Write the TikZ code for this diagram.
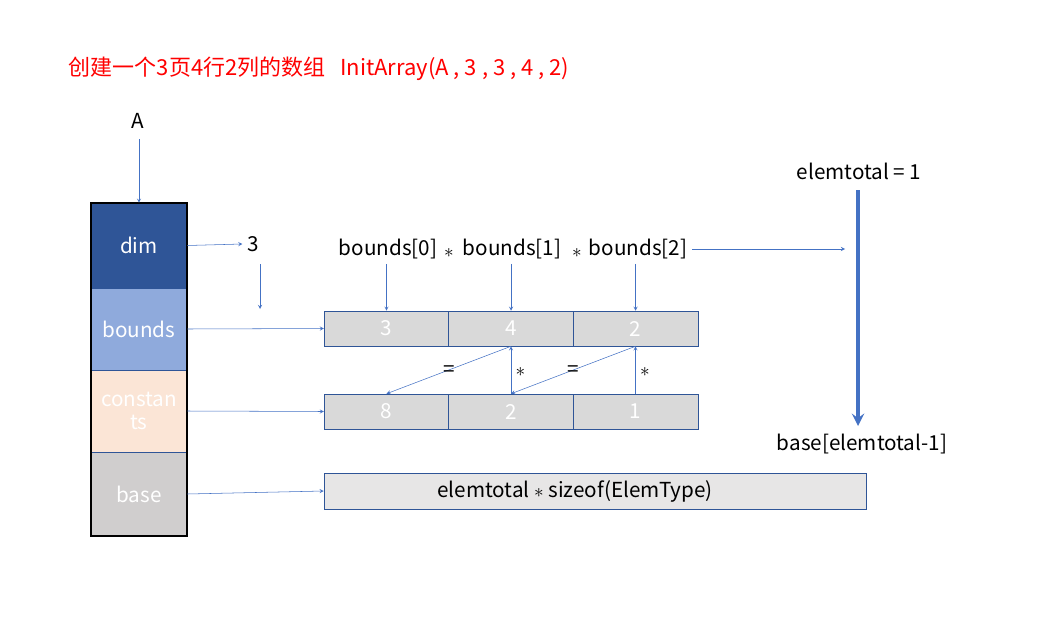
\documentclass[tikz,border=0pt]{standalone}
\usepackage{fontspec}
\setmainfont{Noto Sans CJK SC}
\usetikzlibrary{positioning,fit}
\definecolor{linkblue}{HTML}{4472C4}
\definecolor{edgeblue}{HTML}{2F5597}
\definecolor{dimfill}{HTML}{2F5597}
\definecolor{boundsfill}{HTML}{8FAADC}
\definecolor{consfill}{HTML}{FBE5D6}
\definecolor{basefill}{HTML}{D0CECE}
\definecolor{cellfill}{HTML}{D9D9D9}
\definecolor{totfill}{HTML}{E7E6E6}
\begin{document}
\begin{tikzpicture}[x=0.75pt,y=-0.75pt,>=stealth,semithick,
  font=\fontsize{15.5}{17}\selectfont]
\tikzstyle{field}=[draw=edgeblue,thin,text=white,minimum width=72pt,align=center,inner sep=0pt]
\tikzstyle{cell}=[draw=edgeblue,thin,fill=cellfill,text=white,minimum width=93.4pt,minimum height=26.25pt,inner sep=0pt]
\tikzstyle{link}=[->,linkblue,thin]
\tikzstyle{op}=[text=black]
\useasboundingbox (0,0) rectangle (1056,639);
% title
\node[text=red,anchor=west,font=\fontsize{16.5}{18}\selectfont] (title) at (64,69) {创建一个3页4行2列的数组\ \ \ InitArray(A , 3 , 3 , 4 , 2)};
% array head
\node (A) at (138,121) {A};
\node[field,fill=dimfill,minimum height=63.75pt] (dim) at (139,245.5) {dim};
\node[field,fill=boundsfill,minimum height=61.5pt] (bounds) at (139,329) {bounds};
\node[field,fill=consfill,minimum height=61.5pt] (cons) at (139,411) {constan\\ts};
\node[field,fill=basefill,minimum height=63pt] (base) at (139,494) {base};
\node[fit=(dim)(base),draw=black,line width=1.2pt,inner sep=0pt] (head) {};
\draw[link] (A.south -| dim.north) ++(0,6) -- (dim.north);
% dim
\node (three) at (253,244) {3};
\coordinate (drop) at (260,309);
\draw[link] (dim.east) -- (three.west);
\draw[link] (three.south -| drop) ++(0,8) -- (drop);
% bounds and constants
\node[cell] (b0) at (386.5,328.5) {3};
\node[cell] (b1) at (511,328.5) {4};
\node[cell] (b2) at (635.5,328.5) {2};
\node[cell] (c0) at (386.5,411.5) {8};
\node[cell] (c1) at (511,411.5) {2};
\node[cell] (c2) at (635.5,411.5) {1};
\draw[link] (bounds.east) -- (b0.west);
\draw[link] (cons.east) -- (c0.west);
\node (bd0) at (388,249) {bounds[0]};
\node (m0) at (449,253) {$*$};
\node (bd1) at (512,249) {bounds[1]};
\node (m1) at (577,253) {$*$};
\node (bd2) at (638,249) {bounds[2]};
\draw[link] (bd0.south -| b0) -- (b0.north);
\draw[link] (bd1.south -| b1) -- (b1.north);
\draw[link] (bd2.south -| b2) -- (b2.north);
\draw[link] (b1.south) -- node[op,pos=0.5,yshift=-1pt] {=} (c0.north);
\draw[link] (b2.south) -- node[op,pos=0.5,yshift=-1pt] {=} (c1.north);
\draw[link] (c1.north) -- node[op,right,pos=0.45] {$*$} (b1.south);
\draw[link] (c2.north) -- node[op,right,pos=0.45] {$*$} (b2.south);
% elemtotal
\node (etot) at (859,171) {elemtotal = 1};
\node (last) at (862,444) {base[elemtotal-1]};
\coordinate (hit) at (845,249);
\draw[link] (bd2.east) -- (hit);
\draw[->,linkblue,line width=3pt] (etot.south -| 858,0) ++(0,6) -- (858,426);
% base memory
\node[draw=edgeblue,thin,fill=totfill,minimum width=406.5pt,minimum height=27pt,inner sep=0pt] (mem) at (595,491) {\hspace*{-30pt}elemtotal $*$ sizeof(ElemType)};
\draw[link] (base.east) -- (mem.west);
\end{tikzpicture}
\end{document}
